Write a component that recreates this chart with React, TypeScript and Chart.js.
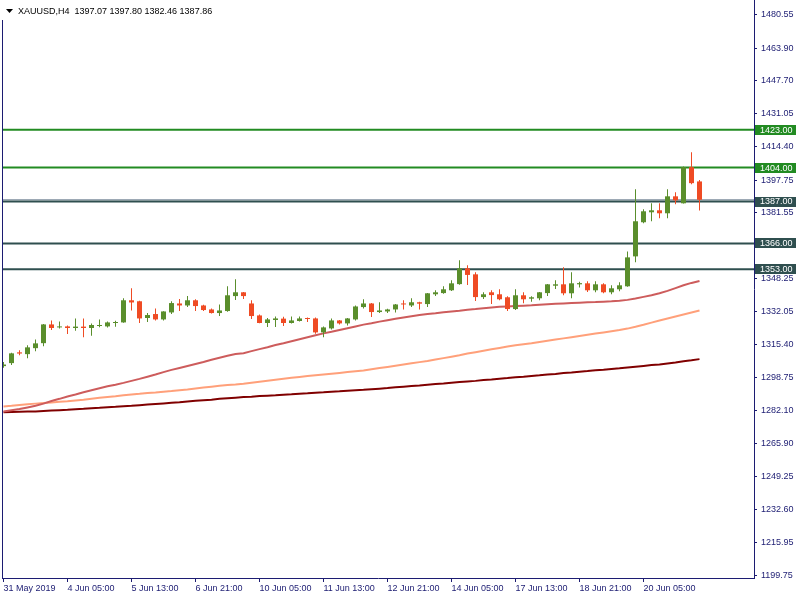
import React, { useEffect, useRef } from "react";
import { Chart, registerables } from "chart.js";

Chart.register(...registerables);

// ---------- data ----------
const TITLE = "XAUUSD,H4  1397.07 1397.80 1382.46 1387.86";

const OPEN = [
  1304.5, 1306.0, 1311.4, 1310.5, 1313.5, 1316.0, 1325.4, 1323.9, 1324.4, 1323.6,
  1324.3, 1323.6, 1324.6, 1324.4, 1326.1, 1326.4, 1337.5, 1337.0, 1328.6, 1330.6,
  1327.9, 1331.4, 1335.9, 1334.9, 1337.5, 1334.9, 1332.9, 1331.1, 1332.1, 1339.6,
  1341.5, 1335.9, 1329.9, 1326.1, 1327.6, 1328.3, 1326.1, 1327.1, 1328.6, 1328.4,
  1321.4, 1323.4, 1327.4, 1325.9, 1327.9, 1334.1, 1335.9, 1331.6, 1331.9, 1332.9,
  1335.9, 1334.9, 1336.5, 1335.6, 1340.5, 1341.1, 1342.5, 1345.6, 1353.5, 1350.5,
  1339.1, 1341.5, 1340.5, 1339.0, 1333.1, 1340.0, 1338.3, 1338.5, 1341.1, 1344.8,
  1345.5, 1341.0, 1345.5, 1346.0, 1342.5, 1345.5, 1341.5, 1343.0, 1344.5, 1359.5,
  1376.6, 1381.6, 1382.6, 1381.1, 1389.6, 1386.1, 1404.2, 1397.07,
];
const HIGH = [
  1306.5, 1311.2, 1312.4, 1314.9, 1317.9, 1325.6, 1327.3, 1326.8, 1324.9, 1328.4,
  1328.4, 1325.8, 1327.9, 1326.8, 1327.2, 1338.5, 1343.5, 1337.2, 1331.1, 1333.4,
  1332.0, 1337.0, 1338.1, 1339.6, 1338.0, 1335.2, 1333.4, 1335.4, 1344.5, 1348.0,
  1341.7, 1337.5, 1330.4, 1328.6, 1329.4, 1329.3, 1329.4, 1329.4, 1328.9, 1328.9,
  1324.4, 1328.4, 1327.6, 1328.6, 1334.9, 1338.0, 1336.1, 1336.5, 1333.2, 1335.6,
  1337.5, 1338.5, 1336.8, 1341.2, 1342.5, 1344.5, 1347.5, 1357.5, 1355.0, 1351.5,
  1341.5, 1342.5, 1343.0, 1339.5, 1343.0, 1341.5, 1339.5, 1341.7, 1345.7, 1347.5,
  1354.0, 1351.5, 1346.8, 1347.0, 1347.0, 1346.0, 1345.0, 1346.5, 1362.0, 1393.2,
  1383.1, 1386.1, 1386.1, 1393.2, 1391.7, 1404.5, 1411.7, 1397.80,
];
const LOW = [
  1303.7, 1305.0, 1310.0, 1308.5, 1312.0, 1314.5, 1322.6, 1323.4, 1320.6, 1322.2,
  1319.0, 1319.7, 1324.0, 1323.8, 1324.2, 1326.2, 1332.4, 1326.1, 1326.6, 1327.4,
  1327.4, 1330.6, 1332.1, 1334.1, 1332.1, 1332.1, 1330.9, 1329.6, 1331.8, 1337.6,
  1338.1, 1328.1, 1326.0, 1324.1, 1324.1, 1324.6, 1325.9, 1326.9, 1326.6, 1320.7,
  1319.0, 1322.9, 1325.4, 1324.9, 1327.4, 1333.4, 1329.1, 1331.1, 1331.1, 1331.4,
  1332.9, 1334.1, 1332.9, 1334.1, 1339.6, 1340.8, 1342.2, 1345.3, 1345.1, 1337.1,
  1338.1, 1335.6, 1337.5, 1332.1, 1332.6, 1336.0, 1336.8, 1337.5, 1339.6, 1343.1,
  1340.0, 1338.5, 1343.9, 1341.6, 1341.5, 1341.0, 1340.5, 1342.0, 1344.3, 1356.5,
  1376.1, 1377.1, 1378.6, 1378.6, 1385.6, 1386.0, 1395.7, 1382.46,
];
const CLOSE = [
  1305.3, 1310.9, 1310.8, 1313.9, 1315.9, 1325.4, 1323.6, 1324.4, 1323.6, 1324.3,
  1323.6, 1325.1, 1325.1, 1326.4, 1326.6, 1337.5, 1336.4, 1328.4, 1330.1, 1327.9,
  1331.9, 1336.1, 1334.9, 1337.5, 1334.6, 1332.6, 1331.1, 1332.4, 1340.0, 1341.5,
  1339.6, 1329.6, 1326.1, 1327.9, 1328.4, 1326.1, 1327.4, 1328.4, 1328.1, 1321.4,
  1323.9, 1327.4, 1325.9, 1328.4, 1334.4, 1335.9, 1331.6, 1332.4, 1332.9, 1335.4,
  1335.4, 1336.5, 1335.8, 1341.0, 1341.5, 1343.0, 1346.0, 1353.5, 1350.2, 1339.1,
  1340.5, 1340.1, 1338.0, 1333.1, 1340.0, 1338.0, 1339.0, 1341.5, 1345.5, 1345.5,
  1341.0, 1346.0, 1346.1, 1342.5, 1345.5, 1341.5, 1343.5, 1345.0, 1359.0, 1377.1,
  1382.1, 1382.6, 1381.1, 1389.6, 1387.6, 1404.2, 1396.2, 1387.86,
];

const MA_FAST = [
  1281.8, 1282.4, 1283.0, 1283.8, 1284.6, 1285.7, 1287.0, 1288.1, 1289.3, 1290.3,
  1291.4, 1292.4, 1293.4, 1294.4, 1295.2, 1296.1, 1297.1, 1298.1, 1299.2, 1300.3,
  1301.5, 1302.6, 1303.6, 1304.6, 1305.6, 1306.6, 1307.7, 1308.7, 1309.7, 1310.6,
  1311.0, 1312.0, 1313.0, 1314.0, 1315.1, 1316.0, 1317.0, 1318.0, 1319.0, 1320.0,
  1320.9, 1321.7, 1322.6, 1323.5, 1324.4, 1325.3, 1326.0, 1326.8, 1327.5, 1328.2,
  1328.9, 1329.5, 1330.1, 1330.6, 1331.0, 1331.5, 1331.9, 1332.3, 1332.8, 1333.1,
  1333.5, 1333.9, 1334.2, 1334.4, 1334.6, 1334.8, 1335.0, 1335.3, 1335.5, 1335.7,
  1335.9, 1336.1, 1336.3, 1336.5, 1336.6, 1336.8, 1337.0, 1337.3, 1337.7, 1338.4,
  1339.2, 1340.0, 1341.0, 1342.2, 1343.6, 1345.0, 1346.2, 1347.2,
];
const MA_MID = [
  1284.3, 1284.6, 1285.0, 1285.4, 1285.7, 1286.0, 1286.3, 1286.6, 1286.9, 1287.3,
  1287.7, 1288.2, 1288.6, 1289.0, 1289.4, 1289.9, 1290.3, 1290.6, 1291.0, 1291.3,
  1291.7, 1292.0, 1292.4, 1292.8, 1293.3, 1293.8, 1294.2, 1294.6, 1295.0, 1295.3,
  1295.7, 1296.2, 1296.7, 1297.2, 1297.7, 1298.2, 1298.7, 1299.1, 1299.5, 1299.9,
  1300.3, 1300.7, 1301.1, 1301.5, 1301.9, 1302.3, 1302.9, 1303.5, 1304.1, 1304.7,
  1305.3, 1305.9, 1306.5, 1307.1, 1307.8, 1308.5, 1309.2, 1309.9, 1310.8, 1311.5,
  1312.2, 1312.9, 1313.6, 1314.3, 1314.9, 1315.5, 1316.0, 1316.6, 1317.2, 1317.8,
  1318.4, 1319.0, 1319.6, 1320.2, 1320.8, 1321.4, 1322.0, 1322.6, 1323.3, 1324.2,
  1325.2, 1326.3, 1327.4, 1328.4, 1329.4, 1330.4, 1331.4, 1332.4,
];
const MA_SLOW = [
  1281.4, 1281.5, 1281.6, 1281.7, 1281.8, 1282.0, 1282.2, 1282.4, 1282.6, 1282.9,
  1283.1, 1283.4, 1283.6, 1283.9, 1284.1, 1284.4, 1284.6, 1284.9, 1285.2, 1285.5,
  1285.8, 1286.1, 1286.4, 1286.8, 1287.1, 1287.4, 1287.7, 1288.1, 1288.4, 1288.7,
  1289.0, 1289.2, 1289.5, 1289.7, 1289.9, 1290.2, 1290.4, 1290.7, 1290.9, 1291.2,
  1291.4, 1291.7, 1291.9, 1292.2, 1292.4, 1292.6, 1292.9, 1293.2, 1293.5, 1293.9,
  1294.2, 1294.5, 1294.8, 1295.2, 1295.5, 1295.8, 1296.2, 1296.5, 1296.8, 1297.1,
  1297.5, 1297.8, 1298.2, 1298.5, 1298.9, 1299.2, 1299.6, 1299.9, 1300.3, 1300.6,
  1301.0, 1301.3, 1301.7, 1302.0, 1302.4, 1302.7, 1303.1, 1303.4, 1303.8, 1304.2,
  1304.6, 1305.0, 1305.3, 1305.8, 1306.3, 1306.9, 1307.4, 1308.0,
];

const LEVELS_GREEN = [1423.0, 1404.0];
const LEVELS_DARK = [1387.0, 1366.0, 1353.0];
const BID = 1387.86;

const Y_TICKS = [
  1480.55, 1463.9, 1447.7, 1431.05, 1414.4, 1397.75, 1381.55, 1365.9, 1348.25,
  1332.05, 1315.4, 1298.75, 1282.1, 1265.9, 1249.25, 1232.6, 1215.95, 1199.75,
];
const X_TICK_INDEX = [0, 8, 16, 24, 32, 40, 48, 56, 64, 72, 80];
const X_TICK_LABELS = [
  "31 May 2019", "4 Jun 05:00", "5 Jun 13:00", "6 Jun 21:00", "10 Jun 05:00",
  "11 Jun 13:00", "12 Jun 21:00", "14 Jun 05:00", "17 Jun 13:00", "18 Jun 21:00",
  "20 Jun 05:00",
];

// ---------- styles ----------
const X_MIN = -0.1875;
const X_MAX = 93.8125;
const Y_MIN = 1198.3;
const Y_MAX = 1488.0;
const NAVY = "#1c1c72";
const BULL = "#5a8e2c";
const BEAR = "#ef4b24";
const GREEN_LVL = "#228b22";
const DARK_LVL = "#2f4f4f";
const FONT = "Liberation Sans";

export default function App() {
  const ref = useRef<HTMLCanvasElement | null>(null);

  useEffect(() => {
    const canvas = ref.current;
    if (!canvas) return;
    Chart.defaults.font.family = FONT;
    Chart.defaults.font.size = 9;

    const idx = OPEN.map((_, i) => i);
    const colors = idx.map((i) => (CLOSE[i] >= OPEN[i] ? BULL : BEAR));

    const levelDs = (v: number, color: string, width: number) => ({
      type: "line" as const,
      data: [
        { x: X_MIN, y: v },
        { x: X_MAX, y: v },
      ],
      borderColor: color,
      borderWidth: width,
      pointRadius: 0,
      order: 5,
    });
    const maDs = (arr: number[], color: string) => ({
      type: "line" as const,
      data: idx.map((i) => ({ x: i, y: arr[i] })),
      borderColor: color,
      borderWidth: 2,
      pointRadius: 0,
      tension: 0,
      order: 3,
    });

    const overlay = {
      id: "overlay",
      afterDraw(chart: any) {
        const ctx = chart.ctx;
        const area = chart.chartArea;
        const ys = chart.scales.y;
        ctx.save();
        // left frame
        ctx.strokeStyle = NAVY;
        ctx.lineWidth = 1;
        ctx.beginPath();
        ctx.moveTo(area.left + 0.5, 20);
        ctx.lineTo(area.left + 0.5, area.bottom);
        ctx.stroke();
        // title
        ctx.fillStyle = "#000000";
        ctx.beginPath();
        ctx.moveTo(6, 9);
        ctx.lineTo(13, 9);
        ctx.lineTo(9.5, 13);
        ctx.closePath();
        ctx.fill();
        ctx.font = `9px "${FONT}"`;
        ctx.textBaseline = "alphabetic";
        ctx.textAlign = "left";
        ctx.fillText(TITLE, 18, 14);
        // level labels
        const drawLabel = (v: number, bg: string) => {
          const y = ys.getPixelForValue(v);
          ctx.fillStyle = bg;
          ctx.fillRect(area.right + 1, Math.round(y) - 5, 41, 10);
          ctx.fillStyle = "#ffffff";
          ctx.textBaseline = "middle";
          ctx.fillText(v.toFixed(2), area.right + 6, y + 0.5);
        };
        LEVELS_GREEN.forEach((v) => drawLabel(v, GREEN_LVL));
        LEVELS_DARK.forEach((v) => drawLabel(v, DARK_LVL));
        ctx.restore();
      },
    };

    const chart = new Chart(canvas, {
      type: "bar",
      data: {
        datasets: [
          {
            type: "bar",
            data: idx.map((i) => ({ x: i, y: [OPEN[i], CLOSE[i]] })),
            backgroundColor: colors,
            borderWidth: 0,
            barThickness: 5,
            minBarLength: 1,
            grouped: false,
            inflateAmount: 0,
            order: 0,
          } as any,
          {
            type: "bar",
            data: idx.map((i) => ({ x: i, y: [LOW[i], HIGH[i]] })),
            backgroundColor: colors,
            borderWidth: 0,
            barThickness: 1,
            minBarLength: 1,
            grouped: false,
            inflateAmount: 0,
            order: 1,
          } as any,
          maDs(MA_FAST, "#cd5c5c"),
          maDs(MA_MID, "#ffa07a"),
          maDs(MA_SLOW, "#800000"),
          ...LEVELS_GREEN.map((v) => levelDs(v, GREEN_LVL, 2)),
          ...LEVELS_DARK.map((v) => levelDs(v, DARK_LVL, 2)),
          levelDs(BID, "#778899", 1),
        ] as any,
      },
      options: {
        responsive: false,
        animation: false,
        events: [],
        layout: { padding: { left: 2, top: 0, right: 0, bottom: 0 } },
        plugins: {
          legend: { display: false },
          tooltip: { enabled: false },
          title: { display: false },
        },
        scales: {
          x: {
            type: "linear",
            position: "bottom",
            offset: false,
            bounds: "data",
            min: X_MIN,
            max: X_MAX,
            afterBuildTicks: (s: any) => {
              s.ticks = X_TICK_INDEX.map((v) => ({ value: v }));
            },
            afterFit: (s: any) => {
              s.height = 22;
              s.paddingLeft = 0;
              s.paddingRight = 0;
              s.paddingTop = 0;
              s.paddingBottom = 0;
            },
            grid: {
              display: true,
              offset: false,
              drawOnChartArea: false,
              drawTicks: true,
              tickLength: 4,
              color: NAVY,
            },
            border: { display: true, color: NAVY, width: 1 },
            ticks: {
              autoSkip: false,
              maxRotation: 0,
              align: "start",
              padding: 1,
              color: NAVY,
              font: { family: FONT, size: 9 },
              callback: (v: any) => {
                const k = X_TICK_INDEX.indexOf(Number(v));
                return k >= 0 ? X_TICK_LABELS[k] : "";
              },
            },
          },
          y: {
            type: "linear",
            position: "right",
            min: Y_MIN,
            max: Y_MAX,
            afterBuildTicks: (s: any) => {
              s.ticks = Y_TICKS.map((v) => ({ value: v }));
            },
            afterFit: (s: any) => {
              s.width = 46;
              s.paddingLeft = 0;
              s.paddingRight = 0;
              s.paddingTop = 0;
              s.paddingBottom = 0;
            },
            grid: {
              display: true,
              drawOnChartArea: false,
              drawTicks: true,
              tickLength: 3,
              color: NAVY,
            },
            border: { display: true, color: NAVY, width: 1 },
            ticks: {
              autoSkip: false,
              padding: 4,
              color: NAVY,
              font: { family: FONT, size: 9 },
              callback: (v: any) => Number(v).toFixed(2),
            },
          },
        },
      } as any,
      plugins: [overlay],
    });

    return () => chart.destroy();
  }, []);

  return (
    <div style={{ position: "absolute", left: 0, top: 0, width: 800, height: 600, background: "#ffffff" }}>
      <canvas ref={ref} width={800} height={600} style={{ display: "block" }} />
    </div>
  );
}
